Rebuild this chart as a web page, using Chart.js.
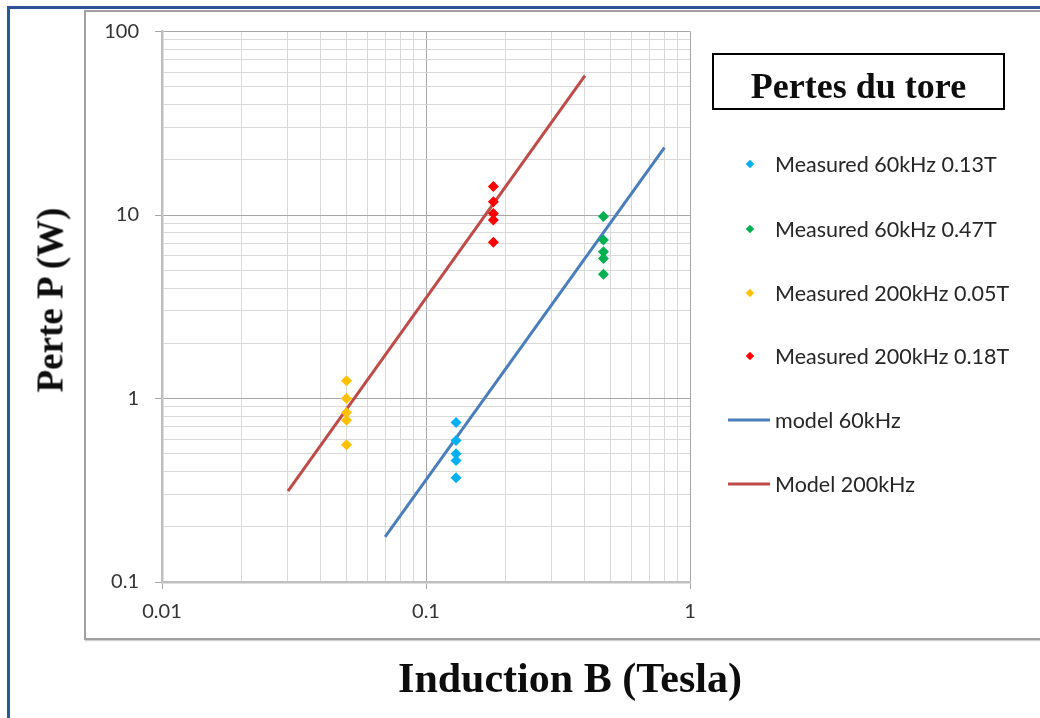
<!DOCTYPE html>
<html>
<head>
<meta charset="utf-8">
<script src="https://cdn.jsdelivr.net/npm/chart.js@4/dist/chart.umd.min.js"></script>
<style>
  html, body { margin: 0; padding: 0; background: #fff; overflow: hidden; width: 1040px; height: 718px; }
  #outer { position: absolute; left: 7px; top: 6px; width: 1100px; height: 800px; border: 3px solid #2F5496; }
  #inner { position: absolute; left: 84px; top: 10px; width: 1100px; height: 626px; border: 2px solid #A0A0A0; box-shadow: 1px 1px 1px #d0d0d0; }
  #c { position: absolute; left: 0; top: 0; }
  .ttl { position: absolute; font-family: "Liberation Serif", "Times New Roman", serif; font-weight: bold; color: #0d0d0d; white-space: nowrap; }
  #ytitle { left: 50px; top: 300px; font-size: 37px; transform: translate(-50%, -50%) rotate(-90deg); }
  #xtitle { left: 570px; top: 678px; font-size: 42px; transform: translate(-50%, -50%); }
  #legtitle { left: 712px; top: 53px; width: 289px; height: 53px; border: 2px solid #000; font-size: 36px; line-height: 53px; text-align: center; }
  #legtitle span { position: relative; top: 5px; }
  .li { position: absolute; left: 720px; height: 30px; font-family: Lato, "Open Sans", sans-serif; font-size: 21.5px; color: #262626; white-space: nowrap; }
  .li .txt { position: absolute; left: 55px; top: 50%; transform: translateY(-50%); }
  .li .dia { position: absolute; left: 27px; top: 50%; width: 6px; height: 6px; transform: translate(0, -50%) rotate(45deg); }
  .li .ln { position: absolute; left: 8px; top: 50%; width: 42px; height: 3px; transform: translateY(-50%); }
</style>
</head>
<body>
<div id="outer"></div>
<div id="inner"></div>
<canvas id="c" width="1040" height="718"></canvas>
<div class="ttl" id="ytitle">Perte P (W)</div>
<div class="ttl" id="xtitle">Induction B (Tesla)</div>
<div class="ttl" id="legtitle"><span id="legtitletext"></span></div>
<div id="legend"></div>
<script>
// ---- data ----
const legendTitle = 'Pertes du tore';
const seriesNames = ['Measured 60kHz 0.13T', 'Measured 60kHz 0.47T', 'Measured 200kHz 0.05T', 'Measured 200kHz 0.18T', 'model 60kHz', 'Model 200kHz'];
const seriesColors = ['#00B0F0', '#00B050', '#FFC000', '#FF0000', '#4A7EBB', '#BE4B48'];

const meas60k013_B = [0.13, 0.13, 0.13, 0.13, 0.13];
const meas60k013_P = [0.74, 0.59, 0.50, 0.46, 0.37];
const meas60k047_B = [0.47, 0.47, 0.47, 0.47, 0.47];
const meas60k047_P = [9.8, 7.3, 6.3, 5.8, 4.75];
const meas200k005_B = [0.05, 0.05, 0.05, 0.05, 0.05];
const meas200k005_P = [1.25, 1.0, 0.84, 0.76, 0.56];
const meas200k018_B = [0.18, 0.18, 0.18, 0.18, 0.18];
const meas200k018_P = [14.3, 11.8, 10.2, 9.4, 7.1];
const model60_B = [0.07, 0.8];
const model60_P = [0.176, 23.3];
const model200_B = [0.03, 0.4];
const model200_P = [0.313, 57.5];

const xMajor = [0.01, 0.1, 1];
const xTickLabels = ['0.01', '0.1', '1'];
const yMajor = [0.1, 1, 10, 100];
const yTickLabels = ['0.1', '1', '10', '100'];

// ---- helpers ----
const pts = (xs, ys) => xs.map((x, i) => ({ x: x, y: ys[i] }));
function decadeTicks(majors) {
  const t = [];
  majors.forEach((m, i) => {
    if (i < majors.length - 1) { for (let k = 1; k < 10; k++) t.push(+(m * k).toPrecision(4)); }
    else t.push(m);
  });
  return t;
}
const isIn = (arr, v) => arr.some(m => Math.abs(m - v) / m < 1e-6);
const labelOf = (arr, labels, v) => { const i = arr.findIndex(m => Math.abs(m - v) / m < 1e-6); return i >= 0 ? labels[i] : ''; };

const MAJOR = '#A6A6A6', MINOR = '#D9D9D9', AXIS = '#BFBFBF';
const tickFont = { family: 'Lato, "Open Sans", sans-serif', size: 20 };

const measured = [
  pts(meas60k013_B, meas60k013_P),
  pts(meas60k047_B, meas60k047_P),
  pts(meas200k005_B, meas200k005_P),
  pts(meas200k018_B, meas200k018_P)
];
const datasets = measured.map((d, i) => ({
  label: seriesNames[i], data: d, pointStyle: 'rectRot', pointRadius: 5.5, pointHoverRadius: 5.5,
  backgroundColor: seriesColors[i], borderColor: seriesColors[i], borderWidth: 0, showLine: false
}));
datasets.push({ label: seriesNames[4], data: pts(model60_B, model60_P), showLine: true, borderColor: seriesColors[4], backgroundColor: seriesColors[4], borderWidth: 3, pointRadius: 0 });
datasets.push({ label: seriesNames[5], data: pts(model200_B, model200_P), showLine: true, borderColor: seriesColors[5], backgroundColor: seriesColors[5], borderWidth: 3, pointRadius: 0 });

new Chart(document.getElementById('c'), {
  type: 'scatter',
  data: { datasets: datasets },
  options: {
    responsive: false, animation: false, devicePixelRatio: 1,
    layout: { padding: { left: 0, right: 350, top: 31.5, bottom: 0 } },
    plugins: { legend: { display: false }, tooltip: { enabled: false } },
    scales: {
      x: {
        type: 'logarithmic', min: 0.01, max: 1,
        afterBuildTicks: s => { s.ticks = decadeTicks(xMajor).map(v => ({ value: v })); },
        afterFit: s => { s.height = 718 - 582; },
        ticks: { autoSkip: false, maxRotation: 0, padding: 11, color: '#333', font: tickFont,
                 callback: v => labelOf(xMajor, xTickLabels, v) },
        grid: { color: c => (c.tick && isIn(xMajor, c.tick.value)) ? MAJOR : MINOR,
                tickColor: c => (c.tick && isIn(xMajor, c.tick.value)) ? MAJOR : 'rgba(0,0,0,0)',
                tickLength: 7, lineWidth: 1 },
        border: { color: AXIS, width: 2.5 }
      },
      y: {
        type: 'logarithmic', min: 0.1, max: 100,
        afterBuildTicks: s => { s.ticks = decadeTicks(yMajor).map(v => ({ value: v })); },
        afterFit: s => { s.width = 162; },
        ticks: { autoSkip: false, padding: 16, color: '#333', font: tickFont,
                 callback: v => labelOf(yMajor, yTickLabels, v) },
        grid: { color: c => (c.tick && isIn(yMajor, c.tick.value)) ? MAJOR : MINOR,
                tickColor: c => (c.tick && isIn(yMajor, c.tick.value)) ? MAJOR : 'rgba(0,0,0,0)',
                tickLength: 7, lineWidth: 1 },
        border: { color: AXIS, width: 2.5 }
      }
    }
  }
});

// ---- legend (HTML, built from the series arrays) ----
document.getElementById('legtitletext').textContent = legendTitle;
const legendY = [164, 229, 293, 356, 420, 484];
const leg = document.getElementById('legend');
seriesNames.forEach((name, i) => {
  const row = document.createElement('div');
  row.className = 'li';
  row.style.top = (legendY[i] - 15) + 'px';
  const mk = document.createElement('div');
  mk.className = i < 4 ? 'dia' : 'ln';
  mk.style.background = seriesColors[i];
  const tx = document.createElement('span');
  tx.className = 'txt';
  tx.textContent = name;
  row.appendChild(mk); row.appendChild(tx);
  leg.appendChild(row);
});
</script>
</body>
</html>
